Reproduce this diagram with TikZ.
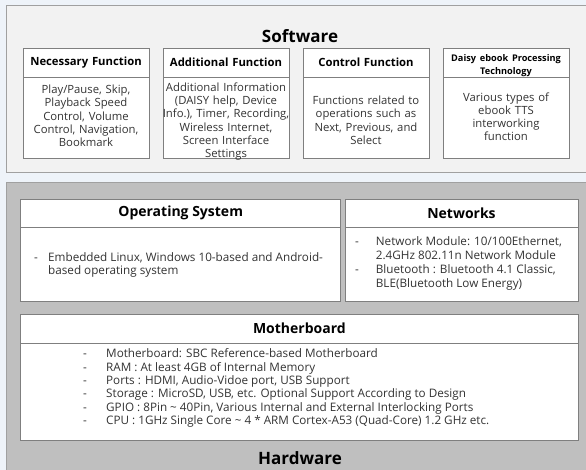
\documentclass[tikz,border=0pt]{standalone}
\usepackage{fontspec}
\setmainfont{Open Sans}
\usepackage{xcolor}

\begin{document}
\begin{tikzpicture}[x=1pt,y=-1pt,
  hdbox/.style={draw=boxline,line width=0.8pt,fill=white,minimum width=126pt,minimum height=29pt,inner sep=0pt},
  bdbox/.style={draw=boxline,line width=0.8pt,fill=white,minimum width=126pt,minimum height=81.5pt,inner sep=0pt},
  hdtext/.style={text width=124pt,align=center,inner sep=0pt,font=\fontsize{11.3}{13}\selectfont\bfseries},
  bdtext/.style={text width=140pt,align=center,inner sep=0pt,text=bodytext,font=\fontsize{11.3}{13.3}\selectfont},
  hwhead/.style={draw=boxline,line width=0.8pt,fill=white,inner sep=0pt,font=\fontsize{14}{16}\selectfont\bfseries},
  hwbody/.style={draw=boxline,line width=0.8pt,fill=white,inner sep=0pt},
  listtext/.style={anchor=west,inner sep=0pt,text=bodytext,font=\fontsize{11.7}{13.3}\selectfont},
  titletext/.style={inner sep=0pt,font=\fontsize{17}{20}\selectfont\bfseries}]
\definecolor{bgblue}{HTML}{EEF3F9}
\definecolor{swgray}{HTML}{F2F2F2}
\definecolor{hwgray}{HTML}{BFBFBF}
\definecolor{panelline}{HTML}{A0A0A0}
\definecolor{boxline}{HTML}{7F7F7F}
\definecolor{bodytext}{HTML}{333333}
\useasboundingbox (0,0) rectangle (586,470);
\clip (0,0) rectangle (586,470);
\fill[bgblue] (0,0) rectangle (586,470);
\draw[draw=panelline,fill=swgray,line width=0.8pt] (6.7,5) rectangle (600,172);
\draw[draw=panelline,fill=hwgray,line width=0.8pt] (6.7,182.7) rectangle (600,480);

\node[titletext] (software) at (300,36) {Software};
  \foreach \hd/\hy/\bd/\by/\pos in
  {{Necessary Function}/62.5/{Play/Pause, Skip,\\Playback Speed\\Control, Volume\\Control, Navigation,\\Bookmark}/115.8/1,
   {Additional Function}/62.5/{Additional  Information\\(DAISY help,  Device\\Info.), Timer,  Recording,\\Wireless  Internet,\\Screen Interface\\Settings}/121.5/2,
   {Control Function}/62.5/{Functions related to\\operations such as\\Next, Previous, and\\Select}/120.3/3,
   {\fontsize{9.2}{10.5}\selectfont Daisy ebook Processing\\Technology}/66/{Various types of\\ebook TTS\\interworking\\function}/116.7/4}
  {  \node[hdbox] (sw\pos-hd) at (140*\pos-54,62.5) {};
     \node[bdbox] (sw\pos-bd) at (140*\pos-54,117.75) {};
     \node[hdtext] (sw\pos-hdtx) at (140*\pos-54,\hy) {\hd};
     \node[bdtext] (sw\pos-bdtx) at (140*\pos-54,\by) {\bd};}

\node[hwhead,minimum width=320pt,minimum height=28.7pt] (os-hd) at (180.7,213.35) {Operating System};
\node[hwbody,minimum width=320pt,minimum height=74pt] (os-bd) at (180.7,264.7) {};
\node[listtext] (os-tx) at (34,265.5) {\begin{tabular}{@{}p{14pt}@{}l@{}}
  -&Embedded Linux, Windows 10-based and Android-\\
   &based operating system\end{tabular}};

\node[hwhead,minimum width=233pt,minimum height=28.7pt] (net-hd) at (461.5,213.35) {Networks};
\node[hwbody,minimum width=233pt,minimum height=74pt] (net-bd) at (461.5,264.7) {};
\node[listtext,font=\fontsize{11.7}{14}\selectfont] (net-tx) at (355,263.8) {\begin{tabular}{@{}p{20.7pt}@{}l@{}}
  -&Network Module: 10/100Ethernet,\\
   &2.4GHz 802.11n Network Module\\
  -&Bluetooth : Bluetooth 4.1 Classic,\\
   &BLE(Bluetooth Low Energy)\end{tabular}};

\node[hwhead,minimum width=557.3pt,minimum height=29.3pt] (mb-hd) at (299.35,328.65) {Motherboard};
\node[hwbody,minimum width=557.3pt,minimum height=96.7pt] (mb-bd) at (299.35,391.65) {};
\node[listtext] (mb-tx) at (83,388.5) {\begin{tabular}{@{}p{23pt}@{}l@{}}
  -&Motherboard: SBC Reference-based Motherboard\\
  -&RAM : At least 4GB of Internal Memory\\
  -&Ports : HDMI, Audio-Vidoe port, USB Support\\
  -&Storage : MicroSD, USB, etc. Optional Support According to Design\\
  -&GPIO : 8Pin \textasciitilde{} 40Pin, Various Internal and External Interlocking Ports\\
  -&CPU : 1GHz Single Core \textasciitilde{} 4 * ARM Cortex-A53 (Quad-Core) 1.2 GHz etc.\end{tabular}};

\node[titletext] (hardware) at (300,458) {Hardware};
\end{tikzpicture}
\end{document}
